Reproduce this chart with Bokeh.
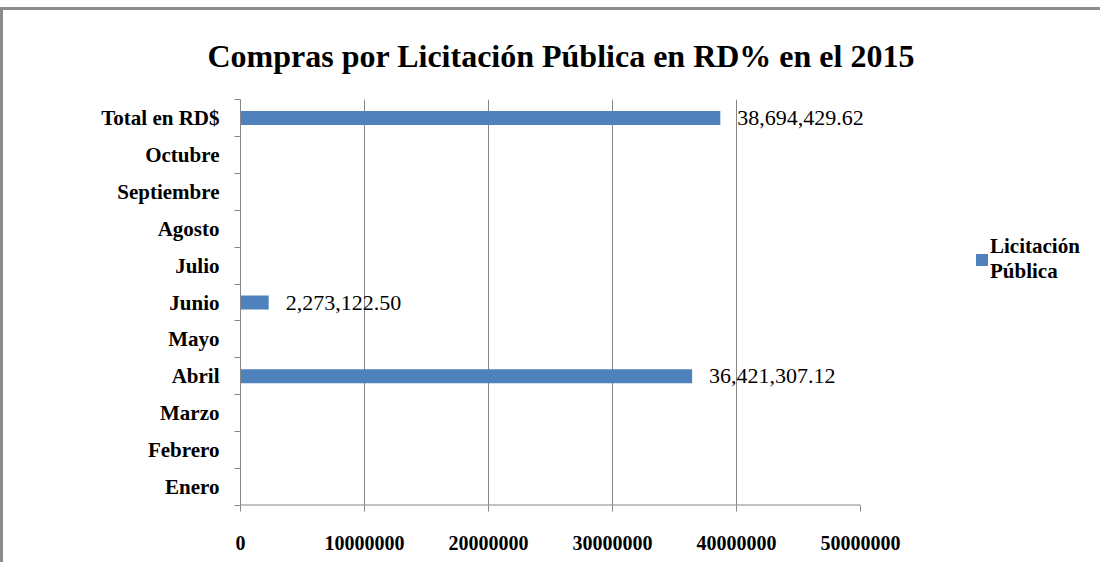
from bokeh.plotting import figure
from bokeh.models import (Range1d, FixedTicker, ColumnDataSource, Legend, LegendItem,
                          CustomJSTickFormatter, LabelSet)
from bokeh.embed import file_html
from bokeh.resources import INLINE

categories = ["Enero", "Febrero", "Marzo", "Abril", "Mayo", "Junio", "Julio",
              "Agosto", "Septiembre", "Octubre", "Total en RD$"]
values = [0, 0, 0, 36421307.12, 0, 2273122.50, 0, 0, 0, 0, 38694429.62]
labels = ["", "", "", "36,421,307.12", "", "2,273,122.50", "", "", "", "", "38,694,429.62"]
x_ticks = [0, 10000000, 20000000, 30000000, 40000000, 50000000]

title_text = "Compras por Licitación Pública en RD%  en el  2015"
series_name = "Licitación\nPública"

BAR = "#4F81BD"
GRAY = "#868686"
SERIF = "Liberation Serif"

# layout (pixels)
W, H = 1100, 555
LEFT, TOP, BOTTOM = 237, 88, 60
AXIS_W = 620            # width of the 0..50M axis
FRAME_W = W - LEFT      # frame extends to the right edge (legend lives in it)

centers = [i + 0.5 for i in range(len(categories))]
bounds = [float(i) for i in range(len(categories) + 1)]
x_max = x_ticks[-1]
x_end = x_max * FRAME_W / AXIS_W

p = figure(width=W, height=H, output_backend="svg", toolbar_location=None,
           x_range=Range1d(0, x_end), y_range=Range1d(0, len(categories)),
           min_border_left=LEFT, min_border_right=0, min_border_top=TOP,
           min_border_bottom=BOTTOM)
p.styles = {"border-top": "3px solid #8c8c8c", "border-left": "3px solid #8c8c8c",
            "margin-top": "7px"}

p.title.text = title_text
p.title.text_font = SERIF
p.title.text_font_size = "32px"
p.title.text_font_style = "bold"
p.title.align = "left"
p.title.offset = -33
p.title.text_color = "black"
p.title.standoff = 51

src = ColumnDataSource(dict(y=centers, v=values, lab=labels, cat=categories))
r = p.hbar(y="y", left=0, right="v", height=0.38, source=src, color=BAR, line_color=None)
lbl = LabelSet(x="v", y="y", text="lab", source=src, x_offset=17, y_offset=0,
               text_baseline="middle", text_align="left", text_font=SERIF,
               text_font_size="22px", text_color="black")
p.add_layout(lbl)

# x axis line limited to the 0..50M span
p.segment(x0=[0], x1=[x_max], y0=[0], y1=[0], line_color=GRAY, line_width=2)

p.outline_line_color = None
p.background_fill_color = "white"
p.border_fill_color = "white"

# grid
p.ygrid.grid_line_color = None
p.xgrid.ticker = FixedTicker(ticks=x_ticks[1:-1])
p.xgrid.grid_line_color = GRAY
p.xgrid.grid_line_width = 1

# x axis
xa = p.xaxis[0]
xa.ticker = FixedTicker(ticks=x_ticks)
xa.formatter = CustomJSTickFormatter(code="return tick.toFixed(0);")
xa.axis_line_color = None
xa.major_tick_line_color = GRAY
xa.major_tick_in = 0
xa.major_tick_out = 6
xa.minor_tick_line_color = None
xa.major_label_text_font = SERIF
xa.major_label_text_font_size = "20px"
xa.major_label_text_font_style = "bold"
xa.major_label_text_color = "black"
xa.major_label_standoff = 24

# y axis
ya = p.yaxis[0]
ya.ticker = FixedTicker(ticks=centers, minor_ticks=bounds)
ya.major_label_overrides = {c: t for c, t in zip(centers, categories)}
ya.axis_line_color = GRAY
ya.major_tick_line_color = None
ya.major_tick_in = 0
ya.major_tick_out = 0
ya.minor_tick_line_color = GRAY
ya.minor_tick_in = 0
ya.minor_tick_out = 6
ya.major_label_text_font = SERIF
ya.major_label_text_font_size = "21px"
ya.major_label_text_font_style = "bold"
ya.major_label_text_color = "black"
ya.major_label_standoff = 15

legend = Legend(items=[LegendItem(label=series_name, renderers=[r])],
                location=(734, 221), border_line_color=None, background_fill_alpha=0,
                label_text_font=SERIF, label_text_font_size="21px",
                label_text_font_style="bold", label_text_color="black",
                label_text_line_height=1.1,
                glyph_width=15, glyph_height=15,
                label_standoff=1, padding=0, margin=0)
p.add_layout(legend, "center")

open("out.html", "w").write(file_html(p, INLINE))
